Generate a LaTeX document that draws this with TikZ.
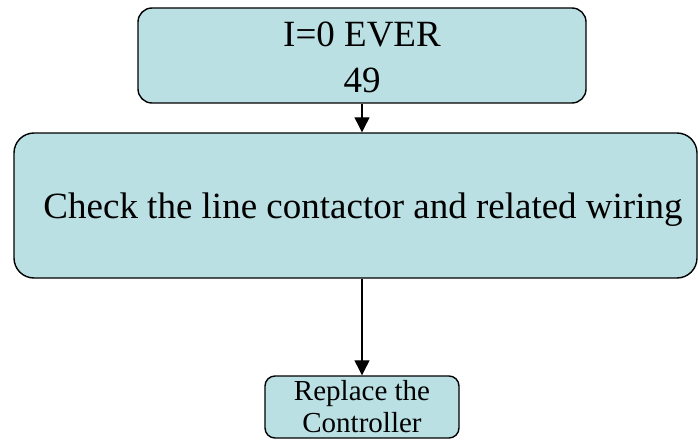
\documentclass[tikz,border=0pt]{standalone}
\usepackage{fontspec}
\setmainfont{Liberation Serif}
\usetikzlibrary{arrows.meta}
\definecolor{boxfill}{RGB}{186,224,227}
\tikzset{
  flowbox/.style={draw=black, line width=1.4pt, fill=boxfill, align=center, inner sep=0pt},
  conn/.style={draw=black, line width=1.2pt, -{Triangle[length=15pt,width=15pt]}}
}
\begin{document}
\begin{tikzpicture}[x=1pt,y=-1pt]
\useasboundingbox (0,0) rectangle (698,441);
\node[flowbox, rounded corners=14pt, minimum width=448pt, minimum height=95pt,
      font=\fontsize{37}{46}\selectfont, text height=75pt, text depth=0pt] (top) at (362,55.5) {I=0 EVER\\49};
\node[flowbox, rounded corners=20pt, minimum width=683pt, minimum height=145pt,
      font=\fontsize{37}{44}\selectfont, text height=25pt, text depth=0pt] (mid) at (355.5,205.5) {\hspace*{15pt}Check the line contactor and related wiring};
\node[flowbox, rounded corners=10pt, minimum width=194pt, minimum height=62pt,
      font=\fontsize{29}{32}\selectfont] (bot) at (362,407) {Replace the\\Controller};
\draw[conn] (top.south -| 362,0) -- (mid.north -| 362,0);
\draw[conn] (mid.south -| 362,0) -- (bot.north);
\end{tikzpicture}
\end{document}
